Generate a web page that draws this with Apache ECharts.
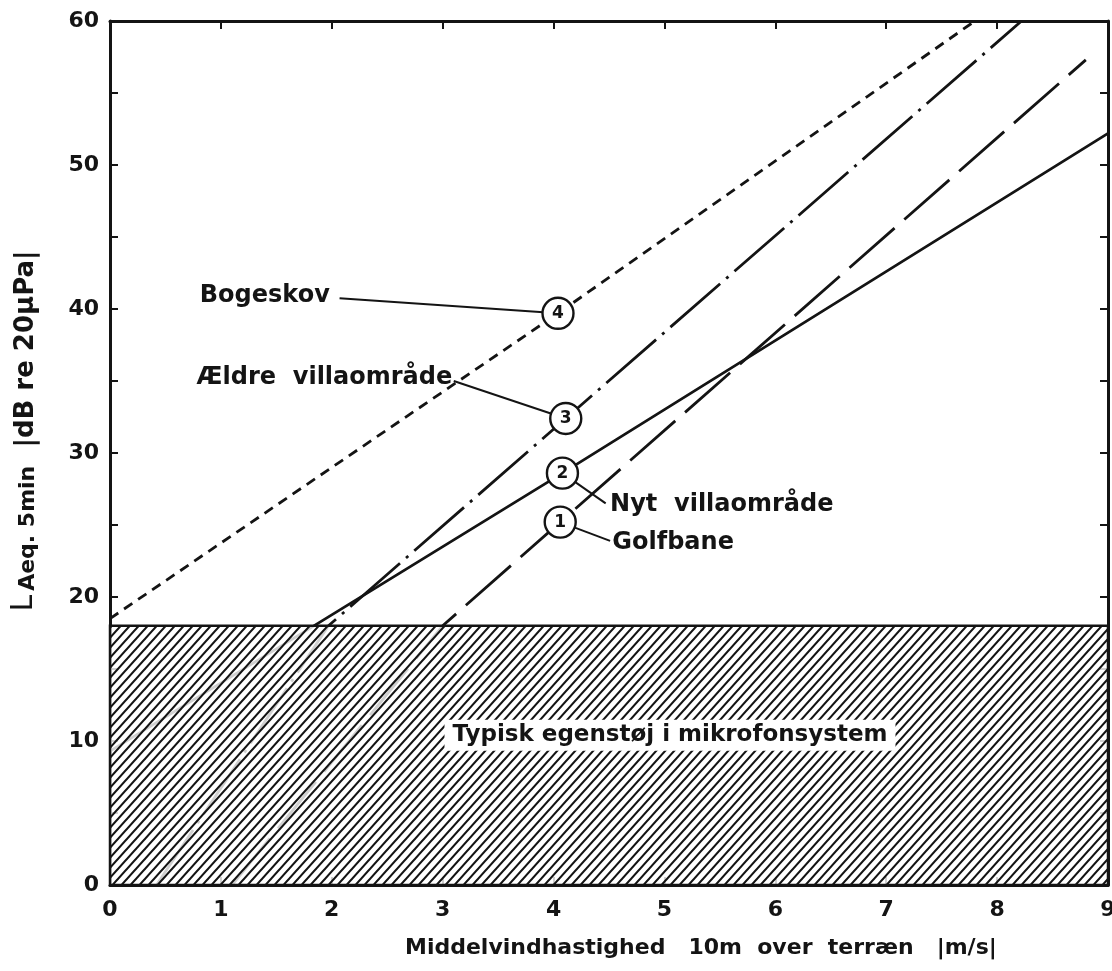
<!DOCTYPE html>
<html>
<head>
<meta charset="utf-8">
<script src="https://cdn.jsdelivr.net/npm/echarts@6/dist/echarts.min.js"></script>
<style>
  html, body { margin: 0; padding: 0; background: #fff; overflow: hidden; }
  #chart { width: 1112px; height: 971px; }
</style>
</head>
<body>
<div id="chart"></div>
<script>
// 5-minute LAeq (dB re 20 µPa) against mean wind speed 10 m above terrain (m/s)
// Each site is a straight-line regression, given as [wind speed, level] vertices.
const golfbane    = [[1.1, 0], [3.0, 18], [4.06, 25.2], [8.8, 57.3]];
const nytVilla    = [[0, 9.3], [4.08, 28.6], [9, 52.2]];
const aeldreVilla = [[0.42, 0], [1.97, 18], [4.11, 32.4], [8.22, 60]];
const bogeskov    = [[0, 18.5], [4.04, 39.7], [7.8, 60]];

// Typical self-noise of the microphone system (dB)
const noiseFloor = 18;
const noiseLabel = 'Typisk egenstøj i mikrofonsystem';

const xRange = [0, 9];
const yRange = [0, 60];

// Site keys (numbered circles) and their names
const siteIds   = ['1', '2', '3', '4'];
const siteNames = ['Golfbane', 'Nyt  villaområde', 'Ældre  villaområde', 'Bogeskov'];
const siteLines = [golfbane, nytVilla, aeldreVilla, bogeskov];

// Where each numbered circle sits on its line, and where its name is written
const keyPoints   = [[4.06, 25.2], [4.08, 28.6], [4.11, 32.4], [4.04, 39.7]];
const nameAnchors = [[4.53, 23.75], [4.51, 26.4], [0.78, 35.2], [0.81, 40.9]];
const leaderEnds  = [[4.51, 23.9], [4.47, 26.5], [3.1, 35.0], [2.07, 40.75]];
const noiseLabelAt = [5.05, 10.4];

const FONT = '"DejaVu Sans", "Liberation Sans", sans-serif';
const INK = '#141414';

// line dash patterns: long dash, solid, dash-dot, short dash
const dashes = [[60, 13], 'solid', [66, 8, 3, 8], [10, 7]];

// diagonal hatch tile for the self-noise band
function hatchTile() {
  const w = 9, h = 10;
  const c = document.createElement('canvas');
  c.width = w; c.height = h;
  const g = c.getContext('2d');
  g.fillStyle = 'rgba(255,255,255,0.8)';
  g.fillRect(0, 0, w, h);
  g.strokeStyle = INK;
  g.lineWidth = 2.1;
  g.beginPath();
  for (const off of [-w, 0, w]) {
    g.moveTo(off - 1, h + h / w);
    g.lineTo(off + w + 1, -h / w);
  }
  g.stroke();
  return c;
}
const hatch = { image: hatchTile(), repeat: 'repeat' };

const chart = echarts.init(document.getElementById('chart'), null, {
  renderer: 'canvas', width: 1112, height: 971
});

const axisLine = { show: true, onZero: false, lineStyle: { color: INK, width: 3 } };
const tick = { show: true, inside: true, length: 8, lineStyle: { color: INK, width: 2 } };
const tickLabel = { fontFamily: FONT, fontWeight: 'bold', fontSize: 22, color: INK };

const series = [];

siteLines.forEach((pts, i) => {
  series.push({
    type: 'line',
    data: pts,
    symbol: 'none',
    z: 2,
    silent: true,
    animation: false,
    lineStyle: { color: INK, width: 2.8, type: dashes[i] }
  });
});

// hatched band covering levels up to the self-noise floor
series.push({
  type: 'custom',
  z: 5,
  silent: true,
  animation: false,
  data: [[xRange[0], yRange[0], xRange[1], noiseFloor]],
  encode: { x: [0, 2], y: [1, 3] },
  renderItem: (params, api) => {
    const tl = api.coord([api.value(0), api.value(3)]);
    const br = api.coord([api.value(2), api.value(1)]);
    return {
      type: 'rect',
      shape: { x: tl[0], y: tl[1], width: br[0] - tl[0], height: br[1] - tl[1] },
      style: { fill: hatch, stroke: INK, lineWidth: 2.5 }
    };
  }
});

// label inside the hatched band
series.push({
  type: 'scatter',
  z: 9,
  silent: true,
  animation: false,
  symbolSize: 0,
  itemStyle: { opacity: 1 },
  data: [{ value: noiseLabelAt, name: noiseLabel }],
  label: {
    show: true, position: 'inside', formatter: '{b}',
    fontFamily: FONT, fontWeight: 'bold', fontSize: 23, color: INK,
    backgroundColor: '#fff', padding: [4, 8, 4, 8]
  }
});

// leader lines from the site keys to the site names
keyPoints.forEach((p, i) => {
  series.push({
    type: 'line',
    data: [p, leaderEnds[i]],
    symbol: 'none',
    z: 7,
    silent: true,
    animation: false,
    lineStyle: { color: INK, width: 2, type: 'solid' }
  });
});

// numbered circles on the lines
series.push({
  type: 'scatter',
  z: 8,
  silent: true,
  animation: false,
  symbol: 'circle',
  symbolSize: 31,
  data: keyPoints.map((p, i) => ({ value: p, name: siteIds[i] })),
  itemStyle: { color: '#fff', borderColor: INK, borderWidth: 2.4, opacity: 1 },
  label: {
    show: true, position: 'inside', formatter: '{b}',
    fontFamily: FONT, fontWeight: 'bold', fontSize: 17, color: INK
  }
});

// site names
series.push({
  type: 'scatter',
  z: 8,
  silent: true,
  animation: false,
  symbolSize: 0,
  itemStyle: { opacity: 1 },
  data: nameAnchors.map((p, i) => ({ value: p, name: siteNames[i] })),
  label: {
    show: true, position: 'right', distance: 0, formatter: '{b}',
    fontFamily: FONT, fontWeight: 'bold', fontSize: 24, color: INK
  }
});

chart.setOption({
  backgroundColor: '#fff',
  animation: false,
  grid: { left: 110, right: 4, top: 21, bottom: 86, containLabel: false, outerBoundsMode: 'none' },
  xAxis: [
    {
      type: 'value', min: xRange[0], max: xRange[1], interval: 1, position: 'bottom',
      axisLine: axisLine, axisTick: tick,
      axisLabel: Object.assign({ margin: 14 }, tickLabel),
      splitLine: { show: false }
    },
    {
      type: 'value', min: xRange[0], max: xRange[1], interval: 1, position: 'top',
      axisLine: axisLine, axisTick: tick,
      axisLabel: { show: false }, splitLine: { show: false }
    }
  ],
  yAxis: [
    {
      type: 'value', min: yRange[0], max: yRange[1], interval: 10, position: 'left',
      axisLine: axisLine, axisTick: tick,
      minorTick: { show: true, splitNumber: 2, length: 8, lineStyle: { color: INK, width: 2 } },
      axisLabel: Object.assign({ margin: 11 }, tickLabel),
      splitLine: { show: false }, minorSplitLine: { show: false }
    },
    {
      type: 'value', min: yRange[0], max: yRange[1], interval: 10, position: 'right',
      axisLine: axisLine, axisTick: tick,
      minorTick: { show: true, splitNumber: 2, length: 8, lineStyle: { color: INK, width: 2 } },
      axisLabel: { show: false }, splitLine: { show: false }, minorSplitLine: { show: false }
    }
  ],
  graphic: [
    {
      type: 'text',
      left: 405, top: 937,
      silent: true,
      style: {
        text: 'Middelvindhastighed   10m  over  terræn   |m/s|',
        fontFamily: FONT, fontWeight: 'bold', fontSize: 22, fill: INK
      }
    },
    {
      type: 'text',
      x: 23, y: 431,
      rotation: Math.PI / 2,
      silent: true,
      style: {
        text: '{L|L}{sub|Aeq. 5min}{n|  |dB re 20µPa|}',
        align: 'center', verticalAlign: 'middle',
        fill: INK,
        rich: {
          L: { fontFamily: FONT, fontSize: 30, fontWeight: 'normal', fill: INK, verticalAlign: 'bottom', lineHeight: 32 },
          sub: { fontFamily: FONT, fontSize: 22, fontWeight: 'bold', fill: INK, verticalAlign: 'bottom', lineHeight: 22, padding: [8, 0, 0, 4] },
          n: { fontFamily: FONT, fontSize: 26, fontWeight: 'bold', fill: INK, verticalAlign: 'bottom', lineHeight: 32 }
        }
      }
    }
  ],
  series: series
});
</script>
</body>
</html>
